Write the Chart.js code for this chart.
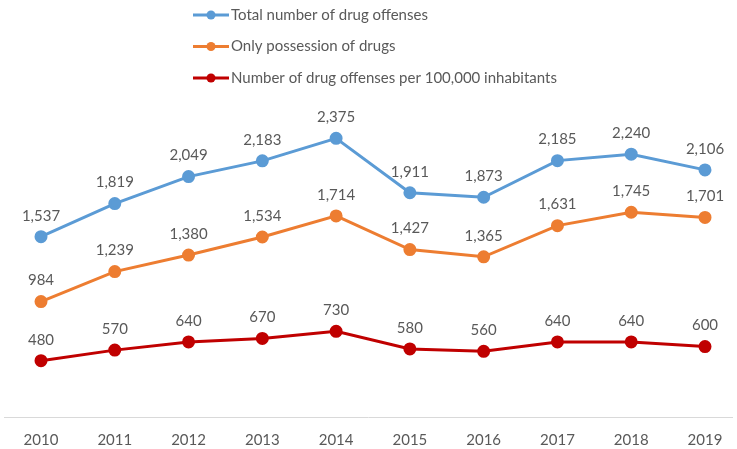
<!DOCTYPE html>
<html>
<head>
<meta charset="utf-8">
<script src="https://cdn.jsdelivr.net/npm/chart.js@4"></script>
<style>
  html, body { margin: 0; padding: 0; background: #fff; }
  #wrap { width: 737px; height: 449px; }
</style>
</head>
<body>
<div id="wrap"><canvas id="chart"></canvas></div>
<script>
const years = ['2010', '2011', '2012', '2013', '2014', '2015', '2016', '2017', '2018', '2019'];
const totalOffenses = [1537, 1819, 2049, 2183, 2375, 1911, 1873, 2185, 2240, 2106];
const possessionOnly = [984, 1239, 1380, 1534, 1714, 1427, 1365, 1631, 1745, 1701];
const per100k = [480, 570, 640, 670, 730, 580, 560, 640, 640, 600];
const seriesNames = ['Total number of drug offenses', 'Only possession of drugs', 'Number of drug offenses per 100,000 inhabitants'];

const FONT = 'Lato, "Open Sans", sans-serif';

function series(label, data, color) {
    return {
        label: label,
        data: data,
        borderColor: color,
        backgroundColor: color,
        borderWidth: 3,
        pointRadius: 5,
        pointHoverRadius: 5,
        tension: 0
    };
}

// value labels above each point
const pointLabels = {
    id: 'pointLabels',
    afterDatasetsDraw(chart) {
        const ctx = chart.ctx;
        ctx.save();
        ctx.font = '15px ' + FONT;
        ctx.fillStyle = '#595959';
        ctx.textAlign = 'center';
        ctx.textBaseline = 'middle';
        chart.data.datasets.forEach((ds, i) => {
            chart.getDatasetMeta(i).data.forEach((pt, j) => {
                ctx.fillText(ds.data[j].toLocaleString('en-US'), pt.x, pt.y - 21);
            });
        });
        ctx.restore();
    }
};

// stacked legend at the top plus the light baseline
const extras = {
    id: 'extras',
    beforeDatasetsDraw(chart) {
        const ctx = chart.ctx;
        const y0 = chart.scales.y.getPixelForValue(0);
        ctx.save();
        ctx.strokeStyle = '#d9d9d9';
        ctx.lineWidth = 1;
        ctx.beginPath();
        ctx.moveTo(4, Math.round(y0) + 0.5);
        ctx.lineTo(733, Math.round(y0) + 0.5);
        ctx.stroke();
        ctx.restore();
    },
    afterDraw(chart) {
        const ctx = chart.ctx;
        ctx.save();
        ctx.font = '15px ' + FONT;
        ctx.textBaseline = 'middle';
        chart.data.datasets.forEach((ds, i) => {
            const y = 15 + i * 31.5;
            ctx.strokeStyle = ds.borderColor;
            ctx.lineWidth = 3;
            ctx.beginPath();
            ctx.moveTo(193, y);
            ctx.lineTo(229, y);
            ctx.stroke();
            ctx.fillStyle = ds.borderColor;
            ctx.beginPath();
            ctx.arc(211, y, 4.5, 0, Math.PI * 2);
            ctx.fill();
            ctx.fillStyle = '#595959';
            ctx.fillText(ds.label, 231, y);
        });
        ctx.restore();
    }
};

new Chart(document.getElementById('chart'), {
    type: 'line',
    data: {
        labels: years,
        datasets: [
            series(seriesNames[0], totalOffenses, '#5b9bd5'),
            series(seriesNames[1], possessionOnly, '#ed7d31'),
            series(seriesNames[2], per100k, '#c00000')
        ]
    },
    options: {
        responsive: true,
        maintainAspectRatio: false,
        animation: false,
        layout: { padding: { top: 65, left: 41, right: 32, bottom: 0 } },
        plugins: {
            legend: { display: false },
            tooltip: { enabled: false }
        },
        scales: {
            x: {
                offset: false,
                grid: { display: false, drawTicks: false },
                border: { display: false },
                ticks: { color: '#595959', font: { size: 15, family: FONT }, padding: 14, maxRotation: 0 },
                afterFit: (scale) => { scale.height = 32; }
            },
            y: {
                display: false,
                min: 0,
                max: 3000
            }
        }
    },
    plugins: [pointLabels, extras]
});
</script>
</body>
</html>
